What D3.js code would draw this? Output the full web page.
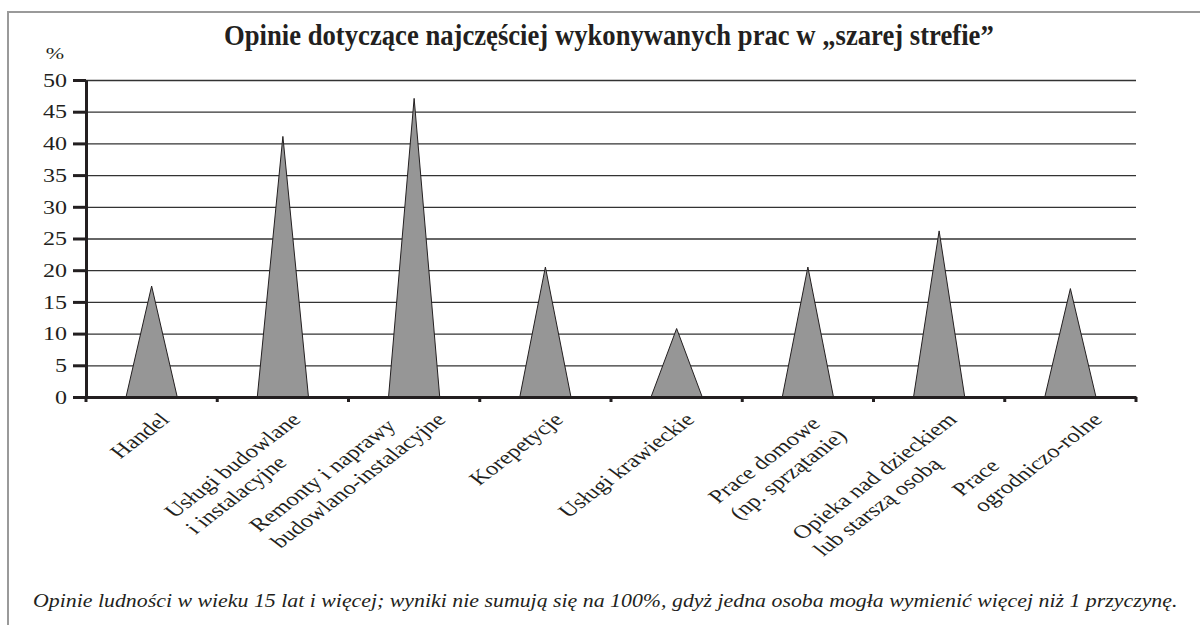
<!DOCTYPE html>
<html><head><meta charset="utf-8">
<script src="https://cdn.jsdelivr.net/npm/d3@7"></script>
<style>body{margin:0;background:#fff}svg{display:block}svg text{font-family:'Liberation Serif','DejaVu Serif',serif !important;fill:#231f20}</style>
</head><body><svg id="c" width="1200" height="625"></svg>
<script>
const categories = [
  ["Handel"],
  ["Usługi budowlane", "i instalacyjne"],
  ["Remonty i naprawy", "budowlano-instalacyjne"],
  ["Korepetycje"],
  ["Usługi krawieckie"],
  ["Prace domowe", "(np. sprzątanie)"],
  ["Opieka nad dzieckiem", "lub starszą osobą"],
  ["Prace", "ogrodniczo-rolne"]
];
const values = [17.5, 41.1, 47.1, 20.5, 10.8, 20.5, 26.2, 17.1];
const yTicks = [0, 5, 10, 15, 20, 25, 30, 35, 40, 45, 50];
const titleText = "Opinie dotyczące najczęściej wykonywanych prac w „szarej strefie”";
const unitText = "%";
const noteText = "Opinie ludności w wieku 15 lat i więcej; wyniki nie sumują się na 100%, gdyż jedna osoba mogła wymienić więcej niż 1 przyczynę.";

const FONT = "'Liberation Serif', 'DejaVu Serif', serif";
const SX = 1.3;
const svg = d3.select("#c").attr("font-family", FONT);
const M = {left: 86, right: 1136, top: 80, bottom: 397};
const keys = categories.map(c => c.join(" "));
const x = d3.scaleBand().domain(keys).range([M.left, M.right]).paddingInner(0).paddingOuter(0);
const y = d3.scaleLinear().domain([0, 50]).range([M.bottom, M.top]);

// outer frame
svg.append("rect").attr("x", 8).attr("y", 12).attr("width", 1250).attr("height", 700)
  .attr("fill", "none").attr("stroke", "#9a9a9a").attr("stroke-width", 2);

function fit(sel, x0, x1) {
  const w = sel.node().getComputedTextLength();
  const s = (x1 - x0) / w;
  sel.attr("transform", `translate(${x0},${sel.attr("data-y")}) scale(${s},1)`);
}
const t = svg.append("text").attr("data-y", 45).attr("font-family", FONT).attr("font-size", 29.5).attr("font-weight", "bold").text(titleText);
fit(t, 224, 994);

svg.append("text").attr("text-anchor", "middle").attr("font-family", FONT).attr("font-size", 17)
  .attr("transform", `translate(55,59) scale(${SX},1)`).text(unitText);

// gridlines
svg.append("g").attr("transform", `translate(${M.left},0)`)
  .call(d3.axisLeft(y).tickValues(yTicks.slice(1)).tickSize(-(M.right - M.left)).tickFormat(""))
  .call(g => g.select(".domain").remove())
  .call(g => g.selectAll("line").attr("stroke", "#333").attr("stroke-width", 1.3));

// triangles
const hw = x.bandwidth() * 0.195;
svg.append("g").selectAll("path").data(values).join("path")
  .attr("d", (v, i) => {
    const cx = x(keys[i]) + x.bandwidth() / 2;
    return `M${cx - hw},${y(0)}L${cx},${y(v)}L${cx + hw},${y(0)}Z`;
  })
  .attr("fill", "#969696").attr("stroke", "#231f20").attr("stroke-width", 1);

// y axis
svg.append("g").attr("transform", `translate(${M.left},0)`)
  .call(d3.axisLeft(y).tickValues(yTicks).tickSize(13).tickSizeOuter(0))
  .attr("font-family", FONT)
  .call(g => g.select(".domain").attr("stroke", "#231f20").attr("stroke-width", 3))
  .call(g => g.selectAll(".tick line").attr("stroke", "#231f20").attr("stroke-width", 3))
  .call(g => g.selectAll(".tick text").attr("font-size", 18.5).attr("font-family", FONT)
      .attr("fill", "#231f20").attr("x", -19 / SX).attr("dy", "0.34em").attr("transform", `scale(${SX},1)`));

// x axis
const xa = svg.append("g").attr("transform", `translate(0,${M.bottom})`)
  .call(d3.axisBottom(x).tickSize(0).tickSizeOuter(0).tickFormat(""))
  .call(g => g.select(".domain").attr("stroke", "#231f20").attr("stroke-width", 3));
const bounds = keys.map(k => x(k)).concat([x(keys[keys.length - 1]) + x.bandwidth()]);
xa.selectAll("line.b").data(bounds).join("line").attr("class", "b")
  .attr("x1", d => d).attr("x2", d => d).attr("y1", 0).attr("y2", 5)
  .attr("stroke", "#231f20").attr("stroke-width", 3);

// x labels: lines left-aligned; the longest line's end is hung below the category
const lh = 23;
categories.forEach((lines, i) => {
  const cx = x(keys[i]) + x.bandwidth() / 2;
  const g = svg.append("g");
  const texts = lines.map((l, j) => g.append("text").attr("font-family", FONT).attr("font-size", 19)
    .attr("y", j * lh).attr("dy", "0.35em").text(l));
  const ws = texts.map(tt => tt.node().getComputedTextLength());
  const k = (ws.length > 1 && ws[1] - ws[0] > 10) ? 1 : 0;
  const mw = d3.max(ws);
  texts.forEach(tt => tt.attr("x", -mw).attr("y", +tt.attr("y") - k * lh));
  g.attr("transform", `translate(${cx + 13 + 14 * k},416) scale(${SX},1) rotate(-45)`);
});

// footnote
const n = svg.append("text").attr("data-y", 607).attr("font-family", FONT).attr("font-size", 19.5).attr("font-style", "italic").text(noteText);
fit(n, 33, 1178);
</script></body></html>
